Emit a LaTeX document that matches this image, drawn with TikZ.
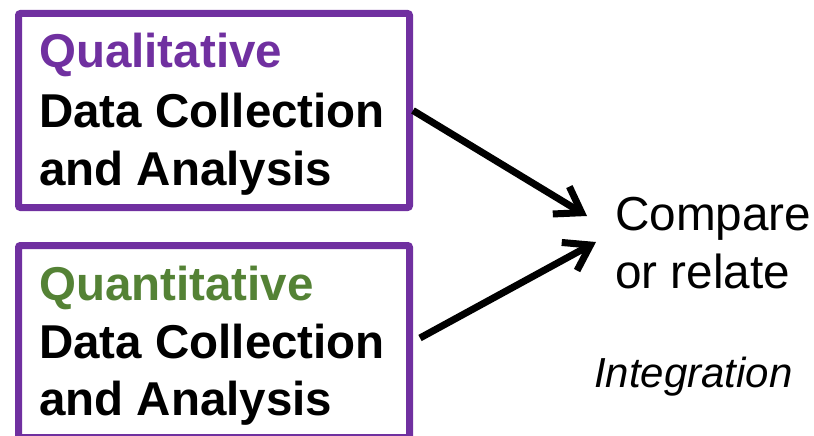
\documentclass[tikz,border=0pt]{standalone}
\usepackage{fontspec}
\setmainfont{Liberation Sans}
\usetikzlibrary{arrows.meta}
\definecolor{boxpurple}{HTML}{7030A0}
\definecolor{qgreen}{HTML}{548235}
\tikzset{
  framebox/.style={draw=boxpurple, line width=7pt, rounded corners=2pt, inner sep=0pt, minimum width=391pt},
  boxtext/.style={anchor=base west, inner sep=0pt, font=\fontsize{47.5}{58}\selectfont\bfseries},
  plaintext/.style={anchor=base west, inner sep=0pt, font=\fontsize{47.7}{58}\selectfont},
  arr/.style={line width=7pt, -{Straight Barb[length=24pt,width=32pt]}}
}
\begin{document}
\begin{tikzpicture}[x=1pt,y=-1pt]
\useasboundingbox (0,0) rectangle (814,436);
\clip (0,0) rectangle (814,436);
\node[framebox, minimum height=194pt] (box1) at (214,110.5) {};
\node[framebox, minimum height=192pt] (box2) at (214,341.5) {};
\node[boxtext, text=boxpurple] (q1) at (39,68) {Qualitative};
\node[boxtext] (d1) at (39,127) {Data Collection};
\node[boxtext] (a1) at (39,185) {and Analysis};
\node[boxtext, text=qgreen] (q2) at (39,300) {Quantitative};
\node[boxtext] (d2) at (39,358) {Data Collection};
\node[boxtext] (a2) at (39,415) {and Analysis};
\node[plaintext] (cmp) at (615,230) {Compare};
\node[plaintext] (rel) at (615,288) {or relate};
\node[anchor=base west, inner sep=0pt, font=\fontsize{42}{48}\selectfont\itshape] (integ) at (594,387) {Integration};
\coordinate (tip1) at (587,216);
\coordinate (tip2) at (596,242);
\coordinate (s2) at (420,338);
\draw[arr] (box1.east) -- (tip1);
\draw[arr] (s2) -- (tip2);
\end{tikzpicture}
\end{document}
